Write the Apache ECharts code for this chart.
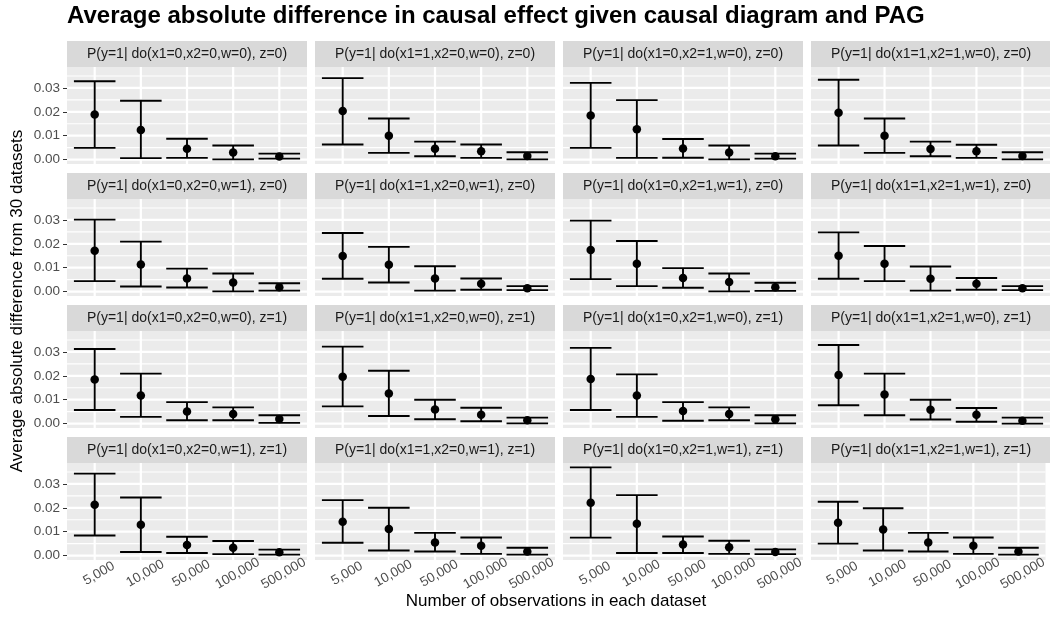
<!DOCTYPE html>
<html>
<head>
<meta charset="utf-8">
<script src="https://cdn.jsdelivr.net/npm/echarts@6/dist/echarts.min.js"></script>
<style>html,body{margin:0;padding:0;background:#fff}#chart{width:1050px;height:625px}</style>
</head>
<body>
<div id="chart"></div>
<script>
const categories = ['5,000', '10,000', '50,000', '100,000', '500,000'];
const panelLabels = [
  'P(y=1| do(x1=0,x2=0,w=0), z=0)', 'P(y=1| do(x1=1,x2=0,w=0), z=0)', 'P(y=1| do(x1=0,x2=1,w=0), z=0)', 'P(y=1| do(x1=1,x2=1,w=0), z=0)',
  'P(y=1| do(x1=0,x2=0,w=1), z=0)', 'P(y=1| do(x1=1,x2=0,w=1), z=0)', 'P(y=1| do(x1=0,x2=1,w=1), z=0)', 'P(y=1| do(x1=1,x2=1,w=1), z=0)',
  'P(y=1| do(x1=0,x2=0,w=0), z=1)', 'P(y=1| do(x1=1,x2=0,w=0), z=1)', 'P(y=1| do(x1=0,x2=1,w=0), z=1)', 'P(y=1| do(x1=1,x2=1,w=0), z=1)',
  'P(y=1| do(x1=0,x2=0,w=1), z=1)', 'P(y=1| do(x1=1,x2=0,w=1), z=1)', 'P(y=1| do(x1=0,x2=1,w=1), z=1)', 'P(y=1| do(x1=1,x2=1,w=1), z=1)'
];
const meanValues = [
  [0.0189, 0.0124, 0.0045, 0.0030, 0.0013],
  [0.0203, 0.0100, 0.0045, 0.0035, 0.0015],
  [0.0185, 0.0127, 0.0046, 0.0030, 0.0014],
  [0.0196, 0.0100, 0.0044, 0.0035, 0.0015],
  [0.0171, 0.0113, 0.0055, 0.0038, 0.0018],
  [0.0149, 0.0112, 0.0055, 0.0033, 0.0014],
  [0.0174, 0.0117, 0.0057, 0.0040, 0.0018],
  [0.0150, 0.0117, 0.0054, 0.0033, 0.0014],
  [0.0184, 0.0118, 0.0051, 0.0040, 0.0019],
  [0.0196, 0.0126, 0.0059, 0.0037, 0.0014],
  [0.0187, 0.0118, 0.0053, 0.0040, 0.0018],
  [0.0203, 0.0122, 0.0058, 0.0037, 0.0012],
  [0.0213, 0.0129, 0.0044, 0.0033, 0.0014],
  [0.0142, 0.0111, 0.0055, 0.0041, 0.0017],
  [0.0221, 0.0133, 0.0046, 0.0035, 0.0015],
  [0.0137, 0.0109, 0.0055, 0.0041, 0.0017]
];
const lowerValues = [
  [0.0049, 0.0006, 0.0007, 0.0001, 0.0004],
  [0.0063, 0.0028, 0.0014, 0.0007, 0.0001],
  [0.0049, 0.0007, 0.0008, 0.0001, 0.0004],
  [0.0059, 0.0028, 0.0014, 0.0007, 0.0001],
  [0.0044, 0.0021, 0.0017, 0.0001, 0.0004],
  [0.0054, 0.0038, 0.0004, 0.0008, 0.0006],
  [0.0052, 0.0023, 0.0016, 0.0001, 0.0003],
  [0.0054, 0.0044, 0.0004, 0.0008, 0.0006],
  [0.0057, 0.0028, 0.0014, 0.0014, 0.0003],
  [0.0072, 0.0032, 0.0018, 0.0010, 0.0001],
  [0.0057, 0.0028, 0.0012, 0.0014, 0.0001],
  [0.0077, 0.0035, 0.0017, 0.0008, 0.0000],
  [0.0084, 0.0015, 0.0011, 0.0006, 0.0004],
  [0.0054, 0.0021, 0.0017, 0.0007, 0.0004],
  [0.0075, 0.0011, 0.0011, 0.0007, 0.0006],
  [0.0050, 0.0021, 0.0017, 0.0007, 0.0004]
];
const upperValues = [
  [0.0328, 0.0246, 0.0087, 0.0059, 0.0025],
  [0.0341, 0.0172, 0.0075, 0.0063, 0.0031],
  [0.0321, 0.0249, 0.0086, 0.0059, 0.0025],
  [0.0334, 0.0172, 0.0075, 0.0062, 0.0031],
  [0.0301, 0.0209, 0.0096, 0.0076, 0.0035],
  [0.0245, 0.0187, 0.0106, 0.0055, 0.0023],
  [0.0297, 0.0212, 0.0098, 0.0076, 0.0037],
  [0.0248, 0.0191, 0.0105, 0.0057, 0.0023],
  [0.0312, 0.0209, 0.0090, 0.0068, 0.0035],
  [0.0322, 0.0221, 0.0100, 0.0066, 0.0025],
  [0.0317, 0.0206, 0.0090, 0.0068, 0.0035],
  [0.0329, 0.0209, 0.0100, 0.0065, 0.0025],
  [0.0343, 0.0243, 0.0079, 0.0061, 0.0025],
  [0.0232, 0.0200, 0.0095, 0.0076, 0.0033],
  [0.0369, 0.0253, 0.0080, 0.0062, 0.0026],
  [0.0225, 0.0198, 0.0095, 0.0076, 0.0033]
];
const yTickValues = [0, 0.01, 0.02, 0.03];
const yMinorValues = [0.005, 0.015, 0.025, 0.035];

const FONT = '"Liberation Sans", Arial, sans-serif';
const nCols = 4, nRows = 4;
const panelLeft0 = 67, panelTop0 = 67, panelW = 240, panelH = 97, colStep = 248, rowStep = 132, stripH = 26;

// ggplot-like expansions
const allLo = Math.min(...lowerValues.flat());
const allHi = Math.max(...upperValues.flat());
const yRange = allHi - allLo;
const yMin = allLo - 0.05 * yRange;
const yMax = allHi + 0.05 * yRange;
const xMin = 1 - 0.6, xMax = categories.length + 0.6;
const xPositions = categories.map((c, i) => i + 1);

const grids = [], xAxes = [], yAxes = [], series = [], graphics = [];

for (let p = 0; p < panelLabels.length; p++) {
  const r = Math.floor(p / nCols), c = p % nCols;
  const left = panelLeft0 + c * colStep;
  const top = panelTop0 + r * rowStep;
  grids.push({ left: left, top: top, width: panelW, height: panelH, show: true, backgroundColor: '#EBEBEB', borderWidth: 0 });
  const bottomRow = r === nRows - 1;
  xAxes.push({
    type: 'value', gridIndex: p, min: xMin, max: xMax,
    axisLine: { show: false }, splitLine: { show: false },
    axisTick: { show: bottomRow, customValues: xPositions, length: 4, lineStyle: { color: '#333333', width: 1 } },
    axisLabel: {
      show: bottomRow, customValues: xPositions,
      formatter: v => categories[Math.round(v) - 1] || '',
      rotate: 30, align: 'center', verticalAlign: 'middle', margin: 16, padding: [0, 0, 0, 10],
      color: '#4D4D4D', fontSize: 13.5, fontFamily: FONT
    }
  });
  yAxes.push({
    type: 'value', gridIndex: p, min: yMin, max: yMax,
    axisLine: { show: false }, splitLine: { show: false },
    axisTick: { show: c === 0, customValues: yTickValues, length: 4, lineStyle: { color: '#333333', width: 1 } },
    axisLabel: {
      show: c === 0, customValues: yTickValues, formatter: v => v.toFixed(2),
      margin: 7, color: '#4D4D4D', fontSize: 13.5, fontFamily: FONT
    }
  });
  // panel grid lines
  series.push({
    type: 'custom', xAxisIndex: p, yAxisIndex: p, z: 1, silent: true,
    data: [[xMin, yMin]],
    renderItem: (params, api) => {
      const children = [];
      yMinorValues.forEach(v => {
        if (v < yMin || v > yMax) return;
        const a = api.coord([xMin, v]), b = api.coord([xMax, v]);
        children.push({ type: 'line', shape: { x1: a[0], y1: a[1], x2: b[0], y2: b[1] }, style: { stroke: '#FFFFFF', lineWidth: 1.1 } });
      });
      yTickValues.forEach(v => {
        const a = api.coord([xMin, v]), b = api.coord([xMax, v]);
        children.push({ type: 'line', shape: { x1: a[0], y1: a[1], x2: b[0], y2: b[1] }, style: { stroke: '#FFFFFF', lineWidth: 2.2 } });
      });
      xPositions.forEach(v => {
        const a = api.coord([v, yMin]), b = api.coord([v, yMax]);
        children.push({ type: 'line', shape: { x1: a[0], y1: a[1], x2: b[0], y2: b[1] }, style: { stroke: '#FFFFFF', lineWidth: 2.2 } });
      });
      return { type: 'group', children: children };
    }
  });
  // error bars
  series.push({
    type: 'custom', xAxisIndex: p, yAxisIndex: p, z: 3, silent: true,
    data: xPositions.map((x, i) => [x, lowerValues[p][i], upperValues[p][i]]),
    encode: { x: 0, y: [1, 2] },
    renderItem: (params, api) => {
      const x = api.value(0), lo = api.value(1), hi = api.value(2);
      const a = api.coord([x, lo]), b = api.coord([x, hi]);
      const half = api.coord([x + 0.45, lo])[0] - a[0];
      const st = { stroke: '#000000', lineWidth: 1.9 };
      return { type: 'group', children: [
        { type: 'line', shape: { x1: a[0], y1: a[1], x2: b[0], y2: b[1] }, style: st },
        { type: 'line', shape: { x1: a[0] - half, y1: a[1], x2: a[0] + half, y2: a[1] }, style: st },
        { type: 'line', shape: { x1: b[0] - half, y1: b[1], x2: b[0] + half, y2: b[1] }, style: st }
      ]};
    }
  });
  // points
  series.push({
    type: 'scatter', xAxisIndex: p, yAxisIndex: p, z: 4, silent: true,
    symbol: 'circle', symbolSize: 8.5,
    itemStyle: { color: '#000000', opacity: 1 },
    data: xPositions.map((x, i) => [x, meanValues[p][i]])
  });
  // strip
  graphics.push({ type: 'rect', shape: { x: left, y: top - stripH, width: panelW, height: stripH }, style: { fill: '#D9D9D9' }, z: 0 });
  graphics.push({ type: 'text', x: left + panelW / 2, y: top - stripH / 2, style: { text: panelLabels[p], textAlign: 'center', textVerticalAlign: 'middle', fill: '#1A1A1A', font: '14px ' + FONT }, z: 1 });
}

graphics.push({ type: 'text', x: 17, y: 301, rotation: Math.PI / 2, style: { text: 'Average absolute difference from 30 datasets', textAlign: 'center', textVerticalAlign: 'middle', fill: '#000000', font: '17px ' + FONT } });
graphics.push({ type: 'text', x: 556, y: 601, style: { text: 'Number of observations in each dataset', textAlign: 'center', textVerticalAlign: 'middle', fill: '#000000', font: '17px ' + FONT } });

const chart = echarts.init(document.getElementById('chart'), null, { renderer: 'canvas' });
chart.setOption({
  animation: false,
  backgroundColor: '#FFFFFF',
  title: {
    text: 'Average absolute difference in causal effect given causal diagram and PAG',
    left: 67, top: 4, padding: 0,
    textStyle: { fontSize: 24, fontWeight: 'bold', color: '#000000', fontFamily: FONT }
  },
  grid: grids, xAxis: xAxes, yAxis: yAxes, series: series,
  graphic: graphics
});
</script>
</body>
</html>
